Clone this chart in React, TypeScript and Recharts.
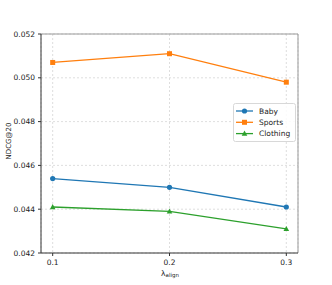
import React from 'react';
import { LineChart, Line, XAxis, YAxis, CartesianGrid, ReferenceLine } from 'recharts';

const lambdas = [0.1, 0.2, 0.3];
const baby = [0.0454, 0.0450, 0.0441];
const sports = [0.0507, 0.0511, 0.0498];
const clothing = [0.0441, 0.0439, 0.0431];
const yTicks = [0.042, 0.044, 0.046, 0.048, 0.050, 0.052];
const seriesNames = ['Baby', 'Sports', 'Clothing'];

const data = lambdas.map((l, i) => ({ l, Baby: baby[i], Sports: sports[i], Clothing: clothing[i] }));

const colors: Record<string, string> = { Baby: '#1f77b4', Sports: '#ff7f0e', Clothing: '#2ca02c' };
const FONT = 'DejaVu Sans, sans-serif';

const Marker = ({ name, cx, cy }: { name: string; cx: number; cy: number }) => {
  const c = colors[name];
  if (name === 'Baby') return <circle cx={cx} cy={cy} r={2.6} fill={c} />;
  if (name === 'Sports') return <rect x={cx - 2.5} y={cy - 2.5} width={5} height={5} fill={c} />;
  return <polygon points={`${cx},${cy - 3} ${cx - 2.8},${cy + 2.2} ${cx + 2.8},${cy + 2.2}`} fill={c} />;
};

const makeDot = (name: string) => (p: any) => (
  <Marker key={`${name}-${p.index}`} name={name} cx={p.cx} cy={p.cy} />
);

const LegendBox = () => (
  <svg width={64} height={40} style={{ display: 'block' }}>
    <rect x={0.5} y={0.5} width={62} height={38} rx={2} fill="white" fillOpacity={0.85} stroke="#d8d8d8" />
    {seriesNames.map((n, i) => {
      const y = 8 + i * 11.3;
      return (
        <g key={n}>
          <line x1={3} x2={20} y1={y} y2={y} stroke={colors[n]} strokeWidth={1.3} />
          <Marker name={n} cx={11.5} cy={y} />
          <text x={26} y={y + 2.7} fontSize={7.5} fontFamily={FONT} fill="#222">{n}</text>
        </g>
      );
    })}
  </svg>
);

export default function App() {
  return (
    <div style={{ position: 'absolute', left: 0, top: 0, width: 332, height: 285, background: 'white' }}>
      <LineChart width={332} height={285} data={data} margin={{ top: 34, right: 34, bottom: 0, left: 0 }}>
        <CartesianGrid strokeDasharray="2 2" stroke="#d6d6d6" strokeWidth={0.8} />
        <XAxis
          dataKey="l"
          type="number"
          domain={[0.09, 0.31]}
          ticks={lambdas}
          tickFormatter={(v: number) => v.toFixed(1)}
          height={32}
          tickSize={3}
          tickMargin={4}
          stroke="#333"
          tick={{ fontSize: 7.5, fontFamily: FONT, fill: '#222' }}
          label={{
            content: () => (
              <text x={170} y={275.5} textAnchor="middle" fontFamily={FONT} fill="#222">
                <tspan fontSize={7.5}>λ</tspan>
                <tspan fontSize={5.5} dy={1.8}>align</tspan>
              </text>
            ),
          }}
        />
        <YAxis
          type="number"
          domain={[0.042, 0.052]}
          ticks={yTicks}
          tickFormatter={(v: number) => v.toFixed(3)}
          width={41}
          tickSize={3}
          tickMargin={3}
          stroke="#333"
          tick={{ fontSize: 7.5, fontFamily: FONT, fill: '#222' }}
          label={{
            content: () => (
              <text x={11} y={141} transform="rotate(-90 11 141)" textAnchor="middle" fontSize={7} fontFamily={FONT} fill="#222">
                NDCG@20
              </text>
            ),
          }}
        />
        <ReferenceLine y={0.052} stroke="#999" strokeWidth={1} />
        <ReferenceLine x={0.31} stroke="#999" strokeWidth={1} />
        {seriesNames.map((n) => (
          <Line
            key={n}
            dataKey={n}
            stroke={colors[n]}
            strokeWidth={1.3}
            dot={makeDot(n)}
            activeDot={false}
            isAnimationActive={false}
          />
        ))}
      </LineChart>
      <div style={{ position: 'absolute', left: 233, top: 103 }}>
        <LegendBox />
      </div>
    </div>
  );
}
